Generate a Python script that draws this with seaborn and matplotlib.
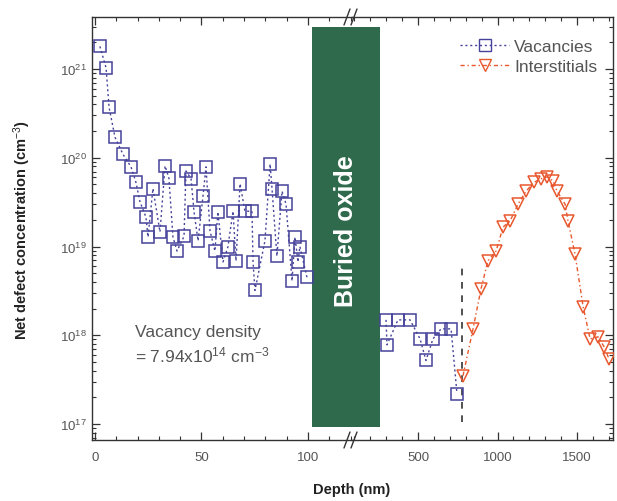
import numpy as np
import pandas as pd
import matplotlib
matplotlib.use("Agg")
import matplotlib.pyplot as plt
from matplotlib.patches import Rectangle
from matplotlib.lines import Line2D
from matplotlib.ticker import LogLocator, MultipleLocator, NullFormatter
import seaborn as sns

sns.set_theme(style="white")
plt.rcParams['font.family'] = ['Liberation Sans', 'DejaVu Sans']
plt.rcParams['mathtext.fontset'] = 'custom'
plt.rcParams['mathtext.rm'] = 'Liberation Sans'
plt.rcParams['mathtext.it'] = 'Liberation Sans:italic'
plt.rcParams['mathtext.bf'] = 'Liberation Sans:bold'

# ---------------- data ----------------
# Vacancies, top silicon layer (depth in nm, concentration in cm^-3)
vac_top_depth = [2.3, 5.2, 6.6, 9.4, 13.1, 16.9, 19.2, 21.1, 23.9, 24.9, 27.2, 30.5,
                 32.9, 34.7, 36.6, 38.5, 41.8, 42.7, 45.1, 46.5, 48.4, 50.7, 52.1,
                 54.0, 56.3, 57.7, 60.1, 62.4, 64.8, 66.2, 68.1, 70.4, 73.7, 74.2,
                 75.1, 79.8, 82.2, 83.1, 85.4, 87.8, 89.7, 92.5, 93.9, 95.3, 96.2, 99.5]
vac_top_conc = [1.8e21, 1.03e21, 3.7e20, 1.7e20, 1.1e20, 7.9e19, 5.3e19, 3.2e19,
                2.15e19, 1.28e19, 4.5e19, 1.46e19, 8.1e19, 5.9e19, 1.28e19, 8.9e18,
                1.3e19, 7.1e19, 5.8e19, 2.45e19, 1.16e19, 3.7e19, 7.9e19, 1.5e19,
                8.9e18, 2.45e19, 6.7e18, 9.9e18, 2.5e19, 6.9e18, 5.1e19, 2.5e19,
                2.5e19, 6.7e18, 3.2e18, 1.16e19, 8.5e19, 4.5e19, 7.8e18, 4.2e19,
                3.0e19, 4.1e18, 1.28e19, 6.7e18, 1.0e19, 4.5e18]
# Vacancies, below the buried oxide
vac_sub_depth = [299, 305, 374, 450, 513, 550, 594, 645, 708, 745]
vac_sub_conc = [1.49e18, 7.8e17, 1.49e18, 1.49e18, 9.1e17, 5.2e17, 9.1e17,
                1.18e18, 1.18e18, 2.2e17]
# Interstitials
int_depth = [783, 846, 896, 940, 991, 1035, 1079, 1129, 1179, 1230, 1274, 1311,
             1349, 1374, 1425, 1443, 1487, 1538, 1582, 1632, 1670, 1701]
int_conc = [3.5e17, 1.18e18, 3.33e18, 6.9e18, 8.9e18, 1.66e19, 1.94e19, 3.0e19,
            4.2e19, 5.3e19, 5.8e19, 6.1e19, 5.5e19, 4.2e19, 3.0e19, 1.94e19,
            8.3e18, 2.1e18, 9.1e17, 9.6e17, 7.4e17, 5.4e17]
# Buried oxide extent and interface marker
box_left_start, box_right_end = 102, 261
box_bottom, box_top = 9.25e16, 2.97e21
interface_depth = 777
interface_ymin, interface_ymax = 1.06e17, 6.05e18

vac_color = "#45429a"
int_color = "#e8582e"
box_color = "#2e6a4b"
txt_gray = "#555555"

df_vt = pd.DataFrame({"depth": vac_top_depth, "conc": vac_top_conc})
df_vs = pd.DataFrame({"depth": vac_sub_depth, "conc": vac_sub_conc})
df_i = pd.DataFrame({"depth": int_depth, "conc": int_conc})

W, H = 617, 502
fig = plt.figure(figsize=(W / 100, H / 100), dpi=100)
fig.patch.set_facecolor("white")

xl0, xb, xr1, yt, yb = 92, 352, 613, 18, 441
axL = fig.add_axes([xl0 / W, 1 - yb / H, (xb - xl0) / W, (yb - yt) / H])
axR = fig.add_axes([xb / W, 1 - yb / H, (xr1 - xb) / W, (yb - yt) / H])

ylim = (6.6e16, 3.86e21)
for ax in (axL, axR):
    ax.set_yscale("log")
    ax.set_ylim(*ylim)
    ax.set_facecolor("none")
    for s in ax.spines.values():
        s.set_color("#333333")
        s.set_linewidth(1.0)

axL.set_xlim(-1.41, 120.66)
axR.set_xlim(85, 1726)

# buried oxide bar (spans the axis break)
axL.add_patch(Rectangle((box_left_start, box_bottom), 200, box_top - box_bottom,
                        color=box_color, zorder=1, lw=0))
axR.add_patch(Rectangle((0, box_bottom), box_right_end, box_top - box_bottom,
                        color=box_color, zorder=1, lw=0))

mk = dict(markersize=9, markerfacecolor="none", markeredgewidth=1.1)
sns.lineplot(data=df_vt, x="depth", y="conc", ax=axL, estimator=None, sort=False,
             color=vac_color, marker="s", linestyle=(0, (1.5, 2)), lw=1.0,
             markeredgecolor=vac_color, zorder=3, **mk)
sns.lineplot(data=df_vs, x="depth", y="conc", ax=axR, estimator=None, sort=False,
             color=vac_color, marker="s", linestyle=(0, (1.5, 2)), lw=1.0,
             markeredgecolor=vac_color, zorder=3, **mk)
sns.lineplot(data=df_i, x="depth", y="conc", ax=axR, estimator=None, sort=False,
             color=int_color, marker="v", linestyle=(0, (3, 2, 1, 2)), lw=1.0,
             markeredgecolor=int_color, zorder=3, **mk)
axR.plot([interface_depth, interface_depth], [interface_ymin, interface_ymax],
         color="#333333", lw=1.2, ls=(0, (4, 4)), zorder=2)

for ax in (axL, axR):
    ax.set_xlabel("")
    ax.set_ylabel("")

# spines across break
axL.spines["right"].set_visible(False)
axR.spines["left"].set_visible(False)

# ticks
axL.xaxis.set_major_locator(MultipleLocator(50))
axL.xaxis.set_minor_locator(MultipleLocator(10))
axR.xaxis.set_major_locator(MultipleLocator(500))
axR.xaxis.set_minor_locator(MultipleLocator(100))
for ax in (axL, axR):
    ax.yaxis.set_major_locator(LogLocator(base=10, numticks=10))
    ax.yaxis.set_minor_locator(LogLocator(base=10, subs=np.arange(2, 10), numticks=20))
    ax.yaxis.set_minor_formatter(NullFormatter())

axL.tick_params(axis="both", which="both", direction="in", colors="#333333",
                labelcolor=txt_gray, labelsize=9.5, top=True, bottom=True,
                left=True, right=False)
axR.tick_params(axis="both", which="both", direction="in", colors="#333333",
                labelcolor=txt_gray, labelsize=9.5, top=True, bottom=True,
                left=False, right=True, labelleft=False)
for ax in (axL, axR):
    ax.tick_params(which="major", length=6, width=0.9)
    ax.tick_params(which="minor", length=3, width=0.8)
    ax.tick_params(axis="x", pad=8)

# break marks
for yy in (1 - yt / H, 1 - yb / H):
    for dx in (-5, 2):
        x0 = (xb + dx - 3) / W
        fig.add_artist(Line2D([x0, x0 + 6 / W], [yy - 8 / H, yy + 8 / H],
                              color="#333333", lw=1.0))

# texts
fig.text(346 / W, 1 - 231 / H, "Buried oxide", rotation=90, color="white",
         fontsize=18, fontweight="bold", ha="center", va="center")
fig.text(135 / W, 1 - 345 / H,
         "Vacancy density\n= 7.94x10$^{14}$ cm$^{-3}$", color=txt_gray,
         fontsize=12.5, ha="left", va="center", linespacing=1.35)
fig.text(352 / W, 1 - 490 / H, "Depth (nm)", fontsize=10.5, fontweight="bold",
         ha="center", va="center", color="#222222")
fig.text(22 / W, 1 - 230 / H, "Net defect concentration (cm$^{-3}$)", rotation=90,
         fontsize=10.5, fontweight="bold", ha="center", va="center", color="#222222")

handles = [Line2D([], [], color=vac_color, marker="s", ls=(0, (1.5, 2)), lw=1.0,
                  markeredgecolor=vac_color, markersize=9, markerfacecolor="none"),
           Line2D([], [], color=int_color, marker="v", ls=(0, (3, 2, 1, 2)), lw=1.0,
                  markeredgecolor=int_color, markersize=9, markerfacecolor="none")]
leg = axR.legend(handles, ["Vacancies", "Interstitials"], loc="upper right",
                 bbox_to_anchor=(1.0, 0.985), frameon=False, fontsize=12.5,
                 handlelength=2.8, handletextpad=0.3, labelspacing=0.25,
                 labelcolor=txt_gray)

fig.savefig("out.png", dpi=100, facecolor="white")
